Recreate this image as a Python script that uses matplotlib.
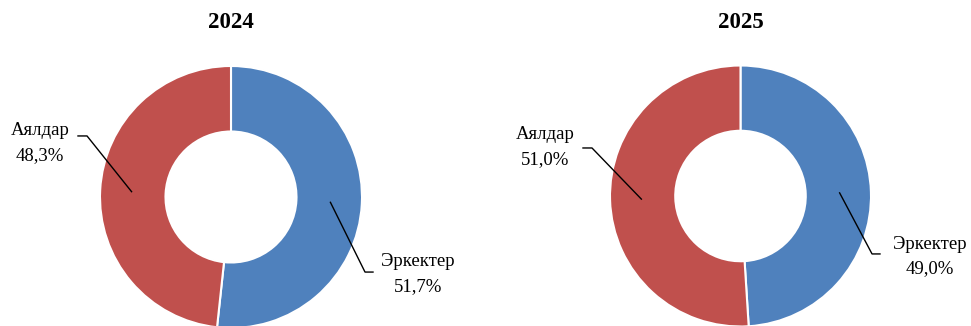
import numpy as np
import matplotlib
matplotlib.use("Agg")
import matplotlib.pyplot as plt

plt.rcParams['font.family'] = ['Liberation Serif', 'DejaVu Serif']

years = ["2024", "2025"]
categories = ["Эркектер", "Аялдар"]
shares = {
    "2024": [51.7, 48.3],
    "2025": [49.0, 51.0],
}
colors = ["#4F81BD", "#C0504D"]

W, H = 971, 326
fig = plt.figure(figsize=(W / 100, H / 100), dpi=100)

# pixel centre / radius of each donut
layout = {
    "2024": dict(cx=231, cy=197, r=131),
    "2025": dict(cx=740.5, cy=196, r=130.5),
}

# label placement (data units, ring radius = 1): text centre, elbow, line end
label_pos = {
    "2024": {
        "Эркектер": dict(text=(1.427, -0.588), elbow=(1.023, -0.573), end=(1.084, -0.573)),
        "Аялдар": dict(text=(-1.458, 0.412), elbow=(-1.099, 0.466), end=(-1.168, 0.466)),
    },
    "2025": {
        "Эркектер": dict(text=(1.452, -0.467), elbow=(1.008, -0.444), end=(1.069, -0.444)),
        "Аялдар": dict(text=(-1.498, 0.375), elbow=(-1.138, 0.368), end=(-1.207, 0.368)),
    },
}

for year in years:
    L = layout[year]
    r = L["r"]
    ax = fig.add_axes([(L["cx"] - r) / W, (H - L["cy"] - r) / H, 2 * r / W, 2 * r / H])
    vals = shares[year]
    wedges, _ = ax.pie(vals, colors=colors, startangle=90, counterclock=False,
                       radius=1.0, wedgeprops=dict(width=0.5, edgecolor="white", linewidth=1.5))
    ax.set_xlim(-1, 1)
    ax.set_ylim(-1, 1)
    ax.set_aspect("equal")
    ax.axis("off")

    for w, cat, v in zip(wedges, categories, vals):
        mid = np.deg2rad((w.theta1 + w.theta2) / 2)
        px, py = 0.76 * np.cos(mid), 0.76 * np.sin(mid)
        lp = label_pos[year][cat]
        ex, ey = lp["elbow"]
        nx, ny = lp["end"]
        ax.plot([px, ex, nx], [py, ey, ny], color="black", lw=1.0, clip_on=False)
        txt = f"{cat}\n{v:.1f}%".replace(".", ",")
        ax.text(lp["text"][0], lp["text"][1], txt, ha="center", va="center",
                fontsize=13.5, linespacing=1.55, clip_on=False)

    fig.text(L["cx"] / W, 1 - 22 / H, year, ha="center", va="center",
             fontsize=16.5, fontweight="bold")

fig.savefig("out.png", dpi=100)
